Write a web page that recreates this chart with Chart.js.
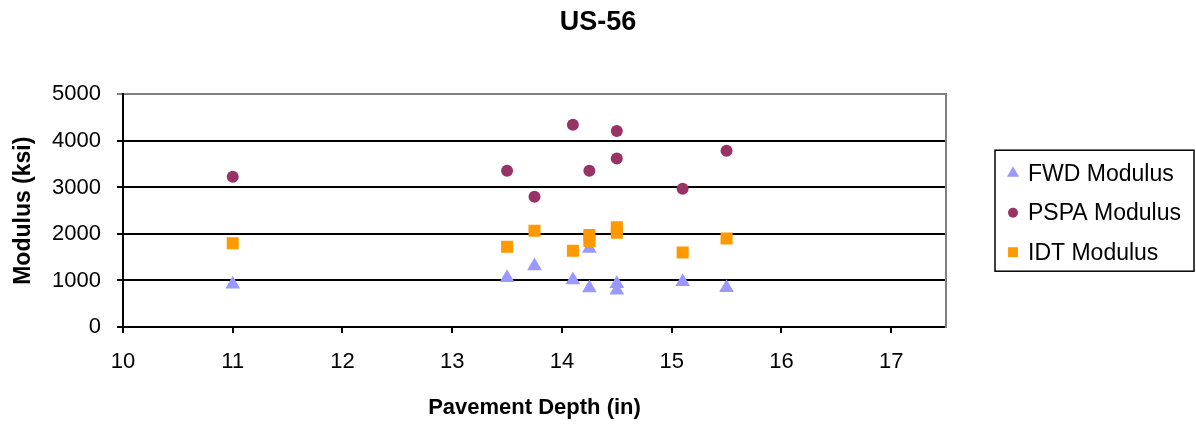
<!DOCTYPE html>
<html>
<head>
<meta charset="utf-8">
<title>US-56</title>
<script src="https://cdn.jsdelivr.net/npm/chart.js@4.4.1/dist/chart.umd.min.js"></script>
<style>
  html, body { margin: 0; padding: 0; background: #fff; }
  #wrap { width: 1196px; height: 427px; position: relative; }
</style>
</head>
<body>
<div id="wrap"><canvas id="chart"></canvas></div>
<script>
// pavement depth (in) and modulus (ksi)
var fwdDepth  = [11, 13.5, 13.75, 14.1, 14.25, 14.25, 14.5, 14.5, 15.1, 15.5];
var fwdMod    = [920, 1060, 1310, 1010, 1690, 840, 930, 790, 975, 845];

var pspaDepth = [11, 13.5, 13.75, 14.1, 14.25, 14.5, 14.5, 15.1, 15.5];
var pspaMod   = [3230, 3360, 2800, 4350, 3360, 4215, 3620, 2970, 3790];

var idtDepth  = [11, 13.5, 13.75, 14.1, 14.25, 14.25, 14.5, 14.5, 15.1, 15.5];
var idtMod    = [1800, 1725, 2070, 1640, 1980, 1850, 2145, 2025, 1600, 1900];

var xTicks = [10, 11, 12, 13, 14, 15, 16, 17];
var yTicks = [0, 1000, 2000, 3000, 4000, 5000];

function pts(xs, ys) {
  return xs.map(function (x, i) { return { x: x, y: ys[i] }; });
}

var FONT = "'Liberation Sans', Arial, sans-serif";

// boxed legend to the right of the plot, like the original
var boxLegend = {
  id: "boxLegend",
  afterDraw: function (chart) {
    var ctx = chart.ctx;
    var area = chart.chartArea;
    var w = 199, h = 121;
    var left = area.right + 49;
    var top = (area.top + area.bottom) / 2 - h / 2;
    ctx.save();
    ctx.strokeStyle = "#000";
    ctx.lineWidth = 1.5;
    ctx.strokeRect(left, top, w, h);
    ctx.font = "23px " + FONT;
    ctx.textBaseline = "middle";
    chart.data.datasets.forEach(function (ds, i) {
      var y = top + 23 + i * 39.5;
      ctx.fillStyle = ds.backgroundColor;
      ctx.strokeStyle = ds.borderColor;
      Chart.helpers.drawPoint(ctx, {
        pointStyle: ds.pointStyle,
        radius: ds.legendRadius,
        rotation: 0,
        borderWidth: 0
      }, left + 18, y);
      ctx.fillStyle = "#000";
      ctx.fillText(ds.label, left + 33, y + 1);
    });
    ctx.restore();
  }
};

new Chart(document.getElementById("chart"), {
  type: "scatter",
  data: {
    datasets: [
      {
        label: "FWD Modulus",
        data: pts(fwdDepth, fwdMod),
        pointStyle: "triangle",
        pointRadius: 8.5,
        legendRadius: 7,
        backgroundColor: "#9999FF",
        borderColor: "#9999FF",
        borderWidth: 0,
        order: 2
      },
      {
        label: "PSPA Modulus",
        data: pts(pspaDepth, pspaMod),
        pointStyle: "circle",
        pointRadius: 6,
        legendRadius: 5,
        backgroundColor: "#993366",
        borderColor: "#993366",
        borderWidth: 0,
        order: 1
      },
      {
        label: "IDT Modulus",
        data: pts(idtDepth, idtMod),
        pointStyle: "rect",
        pointRadius: 8.5,
        legendRadius: 7,
        backgroundColor: "#FF9900",
        borderColor: "#FF9900",
        borderWidth: 0,
        order: 0
      }
    ]
  },
  options: {
    responsive: true,
    maintainAspectRatio: false,
    animation: false,
    plugins: {
      legend: { display: false },
      tooltip: { enabled: false },
      title: {
        display: true,
        text: "US-56",
        color: "#000",
        font: { family: FONT, size: 27, weight: "bold" },
        padding: { top: 6, bottom: 56 }
      }
    },
    scales: {
      x: {
        type: "linear",
        min: 10,
        max: 17.5,
        afterFit: function (s) { s.height = 100; },
        afterBuildTicks: function (s) {
          s.ticks = xTicks.map(function (v) { return { value: v }; });
        },
        ticks: {
          color: "#000",
          font: { family: FONT, size: 22 },
          padding: 16
        },
        grid: {
          drawOnChartArea: false,
          color: "#000",
          lineWidth: 2,
          tickLength: 6
        },
        border: { color: "#000", width: 2 },
        title: {
          display: true,
          text: "Pavement Depth (in)",
          color: "#000",
          font: { family: FONT, size: 22, weight: "bold" },
          padding: { top: 10, bottom: 6 }
        }
      },
      y: {
        min: 0,
        max: 5000,
        afterFit: function (s) { s.width = 123; },
        afterBuildTicks: function (s) {
          s.ticks = yTicks.map(function (v) { return { value: v }; });
        },
        ticks: {
          color: "#000",
          font: { family: FONT, size: 22 },
          padding: 16,
          callback: function (v) { return String(v); }
        },
        grid: {
          color: function (c) { return c.tick && c.tick.value === 5000 ? "#808080" : "#000"; },
          lineWidth: 2,
          tickLength: 6
        },
        border: { color: "#000", width: 2 },
        title: {
          display: true,
          text: "Modulus (ksi)",
          color: "#000",
          font: { family: FONT, size: 23, weight: "bold" },
          padding: { top: 10, bottom: 4 }
        }
      },
      // right edge of the plot frame; also leaves room for the legend
      yRight: {
        position: "right",
        min: 0,
        max: 5000,
        afterFit: function (s) { s.width = 250; },
        ticks: { display: false },
        grid: { display: false },
        border: { color: "#808080", width: 2 }
      }
    }
  },
  plugins: [boxLegend]
});
</script>
</body>
</html>
